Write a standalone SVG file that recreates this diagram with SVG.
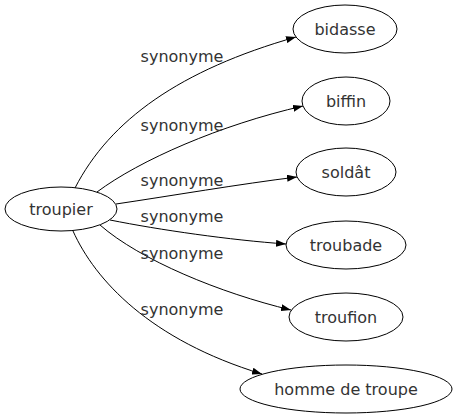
<svg xmlns="http://www.w3.org/2000/svg" width="456" height="419" viewBox="0 0 456 419">
<style>
.n ellipse{fill:#fff;stroke:#000;stroke-width:1}
text{font-family:"DejaVu Sans",Verdana,sans-serif;font-size:16px;fill:#333}
.e path{fill:none;stroke:#000;stroke-width:1}
</style>
<defs>
<marker id="a" viewBox="0 0 10 7" refX="10" refY="3.5" markerWidth="10" markerHeight="7" markerUnits="userSpaceOnUse" orient="auto">
<path d="M0,0 L10,3.5 L0,7 Z" fill="#000"/>
</marker>
</defs>
<rect width="456" height="419" fill="#fff"/>
<g id="edges" class="e">
<path d="M75,188 C110,120 180,70 296,37" marker-end="url(#a)"/>
<path d="M97,192 C140,160 220,125 303,106" marker-end="url(#a)"/>
<path d="M116,204 C170,196 240,184 297,177" marker-end="url(#a)"/>
<path d="M110,220 C160,230 230,240 286,244" marker-end="url(#a)"/>
<path d="M100,225 C140,260 220,293 291,310" marker-end="url(#a)"/>
<path d="M73,231 C95,280 150,340 262,374" marker-end="url(#a)"/>
<text x="182" y="62" text-anchor="middle">synonyme</text>
<text x="182" y="131" text-anchor="middle">synonyme</text>
<text x="182" y="186" text-anchor="middle">synonyme</text>
<text x="182" y="222" text-anchor="middle">synonyme</text>
<text x="182" y="259" text-anchor="middle">synonyme</text>
<text x="182" y="315" text-anchor="middle">synonyme</text>
</g>
<g id="troupier" class="n"><ellipse cx="61" cy="209" rx="56" ry="22"/><text x="61" y="215" text-anchor="middle">troupier</text></g>
<g id="bidasse" class="n"><ellipse cx="345" cy="29" rx="52" ry="24"/><text x="345" y="35" text-anchor="middle">bidasse</text></g>
<g id="biffin" class="n"><ellipse cx="346" cy="101" rx="44" ry="24"/><text x="346" y="107" text-anchor="middle">biffin</text></g>
<g id="soldat" class="n"><ellipse cx="346" cy="172" rx="50" ry="24"/><text x="346" y="178" text-anchor="middle">soldât</text></g>
<g id="troubade" class="n"><ellipse cx="346" cy="245" rx="60" ry="24"/><text x="346" y="251" text-anchor="middle">troubade</text></g>
<g id="troufion" class="n"><ellipse cx="346" cy="317" rx="57" ry="24"/><text x="346" y="323" text-anchor="middle">troufion</text></g>
<g id="homme" class="n"><ellipse cx="346" cy="389" rx="106" ry="24"/><text x="346" y="395" text-anchor="middle">homme de troupe</text></g>
</svg>
